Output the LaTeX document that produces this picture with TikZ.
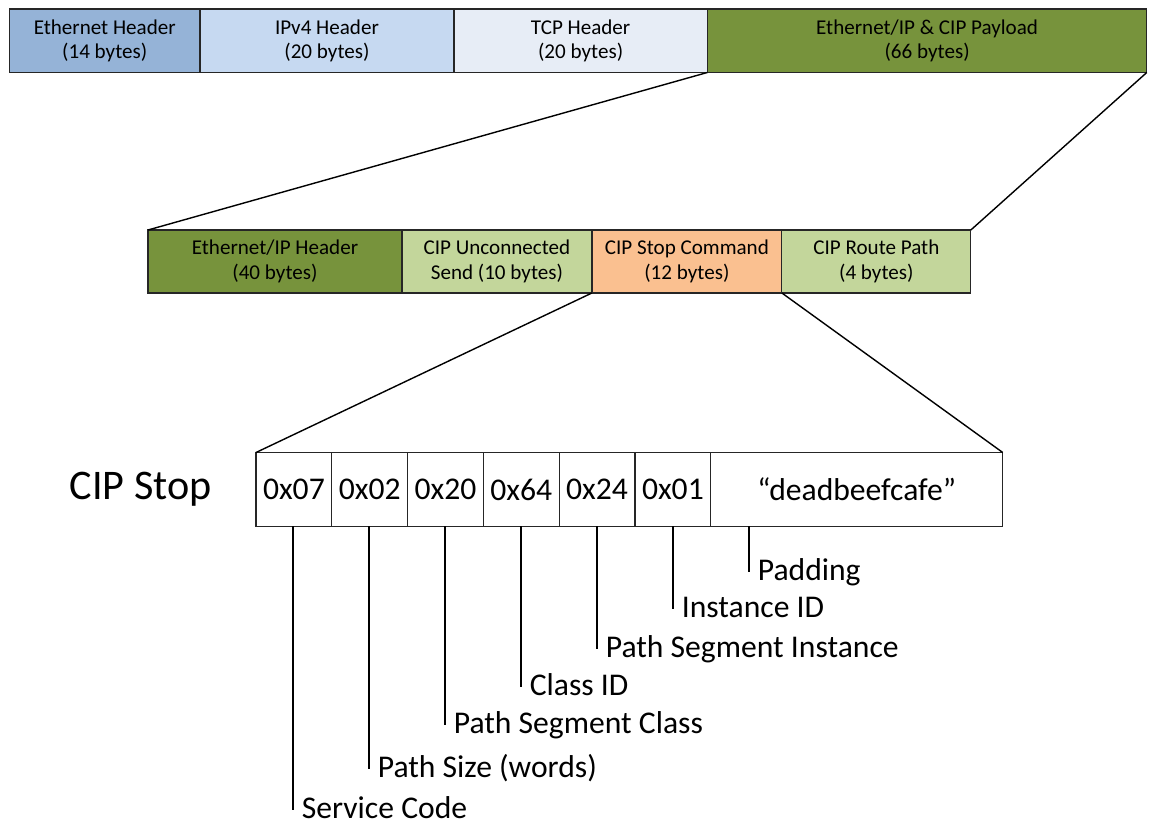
\documentclass[tikz,border=0pt]{standalone}
\usepackage{fontspec}
\setmainfont{Carlito}
\usetikzlibrary{positioning}
\definecolor{ethblue}{HTML}{95B3D7}
\definecolor{ipblue}{HTML}{C6D9F1}
\definecolor{tcpblue}{HTML}{E7EDF6}
\definecolor{cipgreen}{HTML}{77933C}
\definecolor{lightgreen}{HTML}{C3D69B}
\definecolor{peach}{HTML}{FAC090}
\tikzstyle{field}=[draw=black!85,line width=0.7pt,inner sep=0pt,outer sep=0pt,align=center,font=\fontsize{12}{13.8}\selectfont]
\tikzstyle{top field} = [field, minimum height=1.27cm]
\tikzstyle{cip field} = [field, minimum height=1.26cm]
\tikzstyle{cell} = [field, minimum height=1.48cm, minimum width=1.516cm, font=\fontsize{18}{21}\selectfont]
\tikzstyle{lbl} = [inner sep=0pt, anchor=base west, font=\fontsize{18}{21}\selectfont]
\tikzstyle{zoom} = [draw,line width=0.8pt,-]
\tikzstyle{leader} = [draw,line width=1.1pt,-]

\begin{document}
\begin{tikzpicture}[x=0.02cm,y=-0.02cm]
    \useasboundingbox (0,0) rectangle (1150,825);
    % Top row: the whole frame
    \node[top field, fill=ethblue, minimum width=3.81cm, anchor=north west] (eth) at (9.5,9) {Ethernet Header\\(14 bytes)};
    \node[top field, fill=ipblue, minimum width=5.08cm, right=0pt of eth] (ipv4) {IPv4 Header\\(20 bytes)};
    \node[top field, fill=tcpblue, minimum width=5.07cm, right=0pt of ipv4] (tcp) {TCP Header\\(20 bytes)};
    \node[top field, fill=cipgreen, minimum width=8.79cm, right=0pt of tcp] (payload) {Ethernet/IP \& CIP Payload\\(66 bytes)};

    % Second row: the payload
    \node[cip field, fill=cipgreen, minimum width=5.08cm, anchor=north west] (enip) at (148,230) {Ethernet/IP Header\\(40 bytes)};
    \node[cip field, fill=lightgreen, minimum width=3.8cm, right=0pt of enip] (ucsend) {CIP Unconnected\\Send (10 bytes)};
    \node[cip field, fill=peach, minimum width=3.8cm, right=0pt of ucsend] (stop) {CIP Stop Command\\(12 bytes)};
    \node[cip field, fill=lightgreen, minimum width=3.78cm, right=0pt of stop] (route) {CIP Route Path\\(4 bytes)};

    % Third row: the stop command bytes
    \foreach \n/\val in {1/0x07,2/0x02,3/0x20,4/0x64,5/0x24,6/0x01}
        \node[cell, anchor=north west] (c\n) at ({256+75.8*(\n-1)},452.5) {\val};
    \node[cell, minimum width=5.84cm, right=0pt of c6] (c7) {“deadbeefcafe”};
    \node[inner sep=0pt, font=\fontsize{24}{28}\selectfont, left=0.88cm of c1] (ciplbl) {CIP Stop};

    % Zoom lines between the rows
    \path[zoom] (payload.south west) -- (enip.north west);
    \path[zoom] (payload.south east) -- (route.north east);
    \path[zoom] (stop.south west) -- (c1.north west);
    \path[zoom] (stop.south east) -- (c7.north east);

    % Field names under the bytes
    \foreach \n/\y/\txt in {1/818/Service Code,2/777/Path Size (words),3/733/Path Segment Class,4/695/Class ID,5/657/Path Segment Instance,6/617/Instance ID,7/580/Padding}
    {
        \coordinate (t\n) at ({293+76*(\n-1)},\y-8);
        \node[lbl] (l\n) at ([xshift=0.17cm,yshift=-0.16cm]t\n) {\txt};
        \path[leader] (t\n |- c\n.south) -- (t\n);
    }
\end{tikzpicture}
\end{document}
